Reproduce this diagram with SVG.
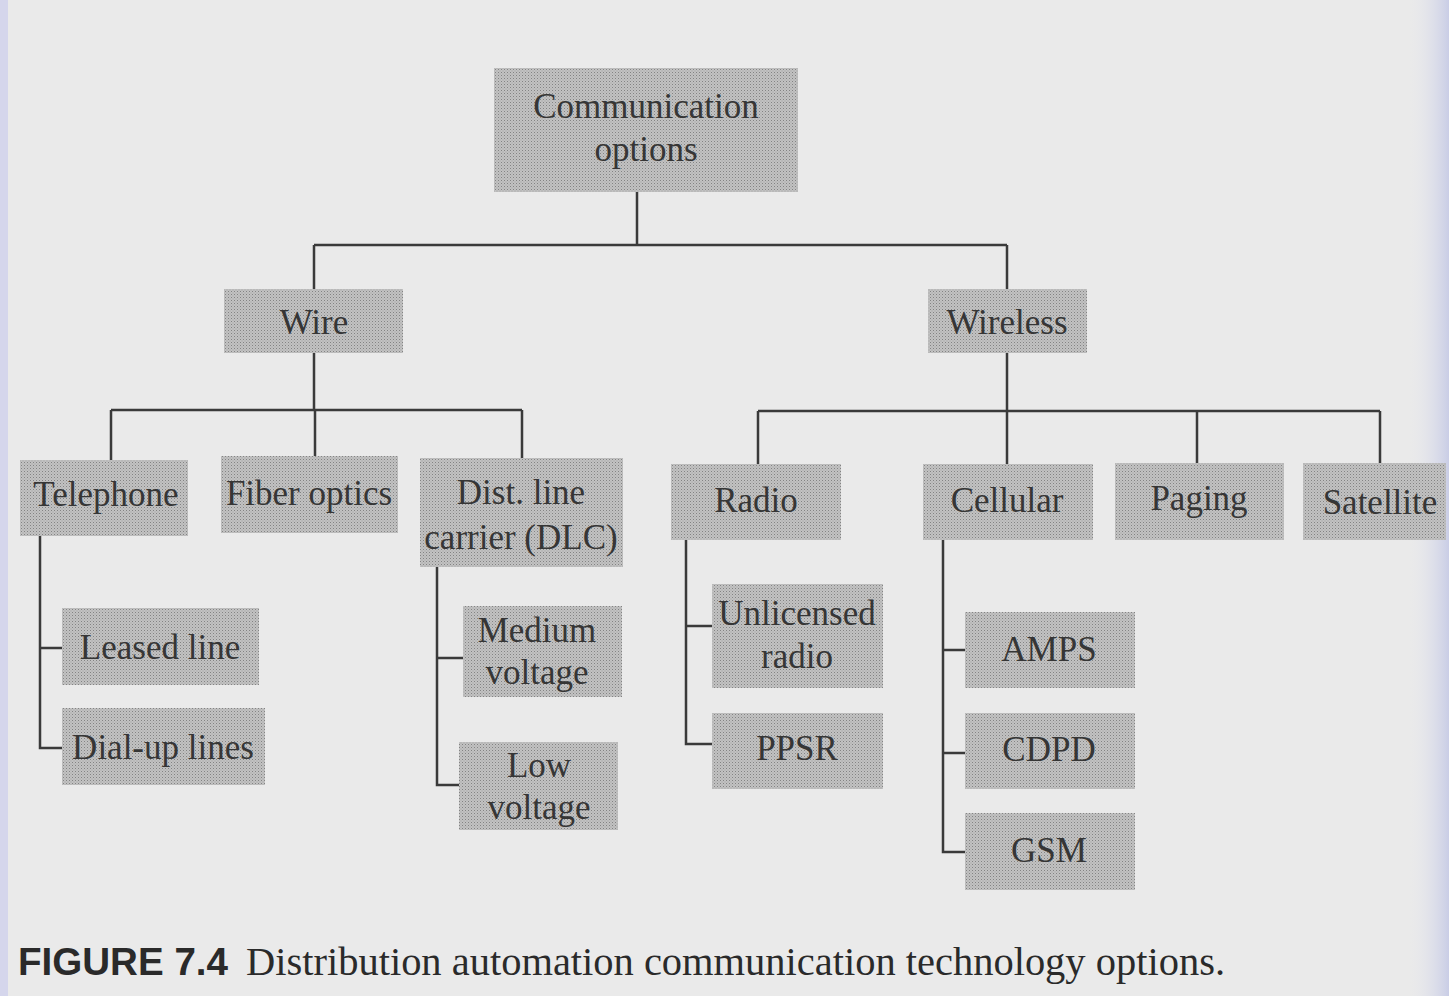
<svg xmlns="http://www.w3.org/2000/svg" width="1449" height="996" viewBox="0 0 1449 996">
<defs>
<pattern id="ht" width="3" height="3" patternUnits="userSpaceOnUse">
<rect width="3" height="3" fill="#c2c2c2"/>
<rect width="1" height="1" fill="#838383"/>
<rect x="1.5" y="1.5" width="1" height="1" fill="#9e9e9e"/>
</pattern>
<linearGradient id="rg" x1="0" x2="1" y1="0" y2="0">
<stop offset="0" stop-color="#e6e7ee" stop-opacity="0"/>
<stop offset="1" stop-color="#c9cde6"/>
</linearGradient>
</defs>
<style>
.box{fill:url(#ht);}
.t{font-family:"Liberation Serif","Times New Roman",serif;font-size:35px;fill:#363636;text-anchor:middle;}
.c{fill:none;stroke:#3a3a3a;stroke-width:2.5;}
</style>
<rect width="1449" height="996" fill="#eaeaea"/>
<rect x="0" y="0" width="8" height="996" fill="#d5d6ec"/>
<rect x="1410" y="0" width="39" height="996" fill="url(#rg)"/>

<g id="connectors">
<path class="c" d="M637 192V245M314 245H1007M314 245V289M1007 245V289"/>
<path class="c" d="M314 353V410M111 410H522M111 410V460M315 410V456M522 410V458"/>
<path class="c" d="M1007 353V411M758 411H1380M758 411V464M1007 411V464M1197 411V463M1380 411V463"/>
<path class="c" d="M40 536V748H62M40 648H62"/>
<path class="c" d="M437 567V785H459M437 658H463"/>
<path class="c" d="M686 540V744H712M686 626H712"/>
<path class="c" d="M943 540V852H965M943 650H965M943 753H965"/>
</g>

<g id="n-root"><rect class="box" x="494" y="68" width="304" height="124"/><text class="t" x="646" y="118">Communication</text><text class="t" x="646" y="161">options</text></g>
<g id="n-wire"><rect class="box" x="224" y="289" width="179" height="64"/><text class="t" x="314" y="334">Wire</text></g>
<g id="n-wireless"><rect class="box" x="928" y="289" width="159" height="64"/><text class="t" x="1007" y="334">Wireless</text></g>
<g id="n-telephone"><rect class="box" x="20" y="460" width="168" height="76"/><text class="t" x="106" y="506">Telephone</text></g>
<g id="n-fiber"><rect class="box" x="221" y="456" width="177" height="77"/><text class="t" x="309" y="505">Fiber optics</text></g>
<g id="n-dlc"><rect class="box" x="420" y="458" width="203" height="109"/><text class="t" x="521" y="504">Dist. line</text><text class="t" x="521" y="549">carrier (DLC)</text></g>
<g id="n-leased"><rect class="box" x="62" y="608" width="197" height="77"/><text class="t" x="160" y="659">Leased line</text></g>
<g id="n-dialup"><rect class="box" x="62" y="708" width="203" height="77"/><text class="t" x="163" y="759">Dial-up lines</text></g>
<g id="n-medium"><rect class="box" x="463" y="606" width="159" height="91"/><text class="t" x="537" y="642">Medium</text><text class="t" x="537" y="684">voltage</text></g>
<g id="n-low"><rect class="box" x="459" y="742" width="159" height="88"/><text class="t" x="539" y="777">Low</text><text class="t" x="539" y="819">voltage</text></g>
<g id="n-radio"><rect class="box" x="671" y="464" width="170" height="76"/><text class="t" x="756" y="512">Radio</text></g>
<g id="n-cellular"><rect class="box" x="923" y="464" width="170" height="76"/><text class="t" x="1007" y="512">Cellular</text></g>
<g id="n-paging"><rect class="box" x="1115" y="463" width="169" height="77"/><text class="t" x="1199" y="510">Paging</text></g>
<g id="n-satellite"><rect class="box" x="1303" y="463" width="143" height="77"/><text class="t" x="1380" y="514">Satellite</text></g>
<g id="n-unlicensed"><rect class="box" x="712" y="584" width="171" height="104"/><text class="t" x="797" y="625">Unlicensed</text><text class="t" x="797" y="668">radio</text></g>
<g id="n-ppsr"><rect class="box" x="712" y="713" width="171" height="76"/><text class="t" x="797" y="760">PPSR</text></g>
<g id="n-amps"><rect class="box" x="965" y="612" width="170" height="76"/><text class="t" x="1049" y="661">AMPS</text></g>
<g id="n-cdpd"><rect class="box" x="965" y="713" width="170" height="76"/><text class="t" x="1049" y="761">CDPD</text></g>
<g id="n-gsm"><rect class="box" x="965" y="813" width="170" height="77"/><text class="t" x="1049" y="862">GSM</text></g>

<g id="caption">
<text x="18" y="975" font-family="'Liberation Sans',Arial,sans-serif" font-weight="bold" font-size="38" fill="#2a2a2a" textLength="210" lengthAdjust="spacingAndGlyphs">FIGURE 7.4</text>
<text x="246" y="975" font-family="'Liberation Serif','Times New Roman',serif" font-size="40" fill="#2a2a2a" textLength="979" lengthAdjust="spacingAndGlyphs">Distribution automation communication technology options.</text>
</g>
</svg>
